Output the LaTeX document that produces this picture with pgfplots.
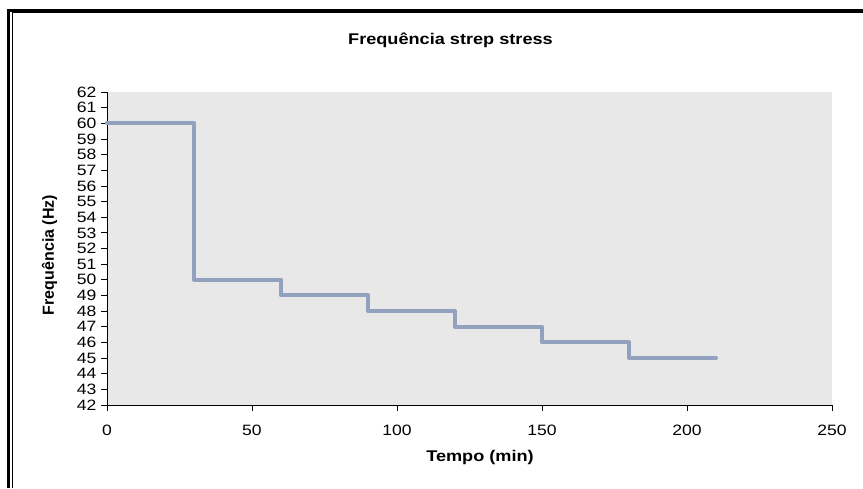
\documentclass[border=0pt]{standalone}
\usepackage{pgfplots}
\pgfplotsset{compat=1.18}
\usepackage{fontspec}
\setmainfont{Liberation Sans}
\definecolor{bgcol}{RGB}{232,232,232}
\definecolor{linecol}{RGB}{146,161,190}
\newcommand{\tf}{\fontsize{15}{15}\selectfont}
\begin{document}
\begin{tikzpicture}[x=1pt,y=1pt]
\begin{axis}[
  at={(107pt,83pt)}, anchor=south west,
  width=725pt, height=313pt, scale only axis,
  xmin=0, xmax=250, ymin=42, ymax=62,
  axis lines*=left,
  axis line style={black, line width=0.8pt},
  axis background/.style={fill=bgcol},
  xtick={0,50,...,250}, ytick={42,...,62},
  tick align=outside, major tick length=6pt,
  tick style={black, line width=0.8pt},
  /pgf/number format/assume math mode=true,
  xticklabel={\scalebox{1.17}[1]{\tf\pgfmathprintnumber{\tick}}},
  yticklabel={\scalebox{1.17}[1]{\tf\pgfmathprintnumber{\tick}}},
  xticklabel style={anchor=north, yshift=-10pt},
  yticklabel style={anchor=east, xshift=-1pt},
  clip=false,
]
\addplot[const plot, linecol, line width=4pt, line cap=round, line join=round] coordinates {
  (0,60) (30,50) (60,49) (90,48) (120,47) (150,46) (180,45) (210,45)
};
\end{axis}
\node[font=\bfseries\fontsize{15.5}{15.5}\selectfont, xscale=1.17, transform shape] at (450.5,448) {Frequência strep stress};
\node[font=\bfseries\fontsize{15.5}{15.5}\selectfont, xscale=1.17, transform shape] at (480,31) {Tempo (min)};
\node[font=\bfseries\fontsize{16}{16}\selectfont, rotate=90] at (49.5,233) {Frequência (Hz)};
% frame
\draw[line width=3.5pt, black] (8.7,0) -- (8.7,477.5) -- (863,477.5);
\draw[line width=1pt, black] (12.5,0) -- (12.5,475) -- (863,475);
\pgfresetboundingbox
\useasboundingbox (0,0) rectangle (863,488);
\end{tikzpicture}
\end{document}
